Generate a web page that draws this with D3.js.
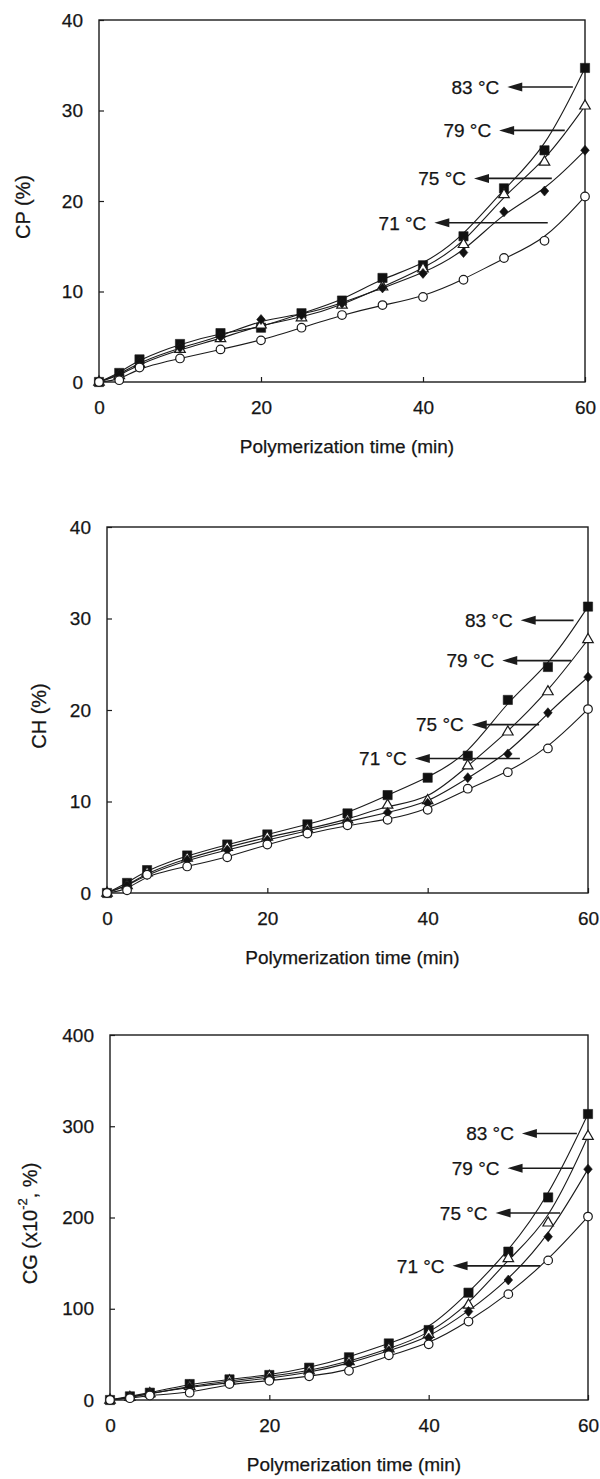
<!DOCTYPE html>
<html>
<head>
<meta charset="utf-8">
<script src="https://cdn.jsdelivr.net/npm/d3@7"></script>
<style>
  body { margin: 0; background: #fff; }
  svg { display: block; }
  text { font-family: "Liberation Sans", Arial, sans-serif; fill: #151515; stroke: #151515; stroke-width: 0.25px; }
</style>
</head>
<body>
<svg id="chart" width="600" height="1479"></svg>
<script>
// sampling times (min), shared by all series
var times = [0, 2.5, 5, 10, 15, 20, 25, 30, 35, 40, 45, 50, 55, 60];
var temps = ["83 °C", "79 °C", "75 °C", "71 °C"];

// CP (%)
var cp83 = [0, 1.0, 2.5, 4.2, 5.4, 6.0, 7.6, 9.0, 11.5, 12.9, 16.1, 21.4, 25.6, 34.7];
var cp79 = [0, 0.7, 2.0, 3.6, 4.8, 6.3, 7.1, 8.5, 10.5, 12.5, 15.2, 20.7, 24.3, 30.5];
var cp75 = [0, 0.8, 2.2, 3.8, 5.0, 6.9, 7.4, 8.7, 10.4, 12.0, 14.3, 18.8, 21.1, 25.6];
var cp71 = [0, 0.2, 1.6, 2.6, 3.6, 4.6, 6.0, 7.4, 8.5, 9.4, 11.3, 13.7, 15.6, 20.5];

// CH (%)
var ch83 = [0, 1.1, 2.5, 4.1, 5.3, 6.4, 7.5, 8.7, 10.7, 12.6, 15.0, 21.1, 24.7, 31.3];
var ch79 = [0, 0.8, 2.2, 3.8, 5.0, 6.1, 7.0, 8.0, 9.6, 10.1, 13.9, 17.6, 22.0, 27.7];
var ch75 = [0, 0.8, 2.0, 3.6, 4.7, 5.8, 6.8, 7.8, 8.8, 9.8, 12.6, 15.2, 19.7, 23.6];
var ch71 = [0, 0.3, 2.0, 2.9, 3.9, 5.3, 6.5, 7.4, 8.0, 9.1, 11.4, 13.2, 15.8, 20.1];

// CG (x10^-2, %)
var cg83 = [0, 4, 8, 17.5, 22.6, 27.4, 35.4, 46.8, 62, 76.7, 117.6, 162.6, 222, 313.4];
var cg79 = [0, 3, 7, 15, 21, 26, 32, 42, 56, 72, 104, 155, 194, 289];
var cg75 = [0, 3, 7, 14, 19, 24, 30, 40, 54, 68, 97, 131.5, 179, 253];
var cg71 = [0, 2, 5, 8, 17.5, 21, 26, 32, 49, 61, 86, 116, 153, 201];

// label arrows: y level, arrow tip x, arrow tail x (data units)
var cpArrowY = [32.6, 27.8, 22.5, 17.6];
var cpArrowTip = [50.4, 49.4, 46.3, 41.4];
var cpArrowTail = [58.5, 57.5, 55.9, 55.4];

var chArrowY = [29.8, 25.4, 18.4, 14.7];
var chArrowTip = [51.6, 49.3, 45.5, 38.4];
var chArrowTail = [58.2, 57.9, 53.9, 51.5];

var cgArrowY = [292, 254, 205, 147];
var cgArrowTip = [51.7, 49.9, 48.4, 43];
var cgArrowTail = [58.6, 58.1, 56.5, 54];

var xTicks = [0, 20, 40, 60];

var panels = [
    {label: "CP (%)", series: [cp83, cp79, cp75, cp71], yMax: 40, yTicks: [0, 10, 20, 30, 40],
     arrowY: cpArrowY, arrowTip: cpArrowTip, arrowTail: cpArrowTail,
     box: {left: 99, right: 585, top: 20, bottom: 382}, titleX: 23},
    {label: "CH (%)", series: [ch83, ch79, ch75, ch71], yMax: 40, yTicks: [0, 10, 20, 30, 40],
     arrowY: chArrowY, arrowTip: chArrowTip, arrowTail: chArrowTail,
     box: {left: 107, right: 588, top: 527, bottom: 893}, titleX: 39},
    {label: "CG", series: [cg83, cg79, cg75, cg71], yMax: 400, yTicks: [0, 100, 200, 300, 400],
     arrowY: cgArrowY, arrowTip: cgArrowTip, arrowTail: cgArrowTail,
     box: {left: 110, right: 588, top: 1035, bottom: 1400}, titleX: 30}
];

var svg = d3.select("#chart");
var ink = "#1b1b1b";
var fs = 19;

// marker shapes: square, open triangle, diamond, open circle
var markerPath = [
    d3.symbol().type(d3.symbolSquare).size(85)(),
    d3.symbol().type(d3.symbolTriangle).size(48)(),
    "M0,-5L4.3,0L0,5L-4.3,0Z",
    null
];
var markerFill = ["#111", "#fff", "#111", "#fff"];

panels.forEach(function(p) {
    var b = p.box;
    var x = d3.scaleLinear().domain([0, 60]).range([b.left, b.right]);
    var y = d3.scaleLinear().domain([0, p.yMax]).range([b.bottom, b.top]);
    var g = svg.append("g");

    // axes with inward ticks
    var ax = g.append("g").attr("transform", "translate(0," + b.bottom + ")")
        .call(d3.axisBottom(x).tickValues(xTicks).tickSizeInner(-5).tickSizeOuter(0).tickPadding(19));
    var ay = g.append("g").attr("transform", "translate(" + b.left + ",0)")
        .call(d3.axisLeft(y).tickValues(p.yTicks).tickSizeInner(-5).tickSizeOuter(0).tickPadding(16));
    [ax, ay].forEach(function(a) {
        a.select(".domain").remove();
        a.selectAll("line").attr("stroke", ink).attr("stroke-width", 1.2);
        a.selectAll("text").attr("font-size", fs).attr("fill", "#151515")
            .attr("font-family", "'Liberation Sans', Arial, sans-serif");
    });

    // frame
    g.append("rect")
        .attr("x", b.left).attr("y", b.top)
        .attr("width", b.right - b.left).attr("height", b.bottom - b.top)
        .attr("fill", "none").attr("stroke", ink).attr("stroke-width", 1.4);

    // smooth curves through the series
    var line = d3.line()
        .x(function(d, i) { return x(times[i]); })
        .y(function(d) { return y(d); })
        .curve(d3.curveBasis);
    p.series.forEach(function(s) {
        g.append("path").attr("d", line(s))
            .attr("fill", "none").attr("stroke", ink).attr("stroke-width", 1.1);
    });

    // markers
    p.series.forEach(function(s, k) {
        var sel = g.append("g").selectAll("path, circle").data(s).enter();
        if (k === 3) {
            sel.append("circle")
                .attr("cx", function(d, i) { return x(times[i]); })
                .attr("cy", function(d) { return y(d); })
                .attr("r", 4.3)
                .attr("fill", "#fff").attr("stroke", ink).attr("stroke-width", 1.2);
        } else {
            sel.append("path")
                .attr("d", markerPath[k])
                .attr("transform", function(d, i) { return "translate(" + x(times[i]) + "," + y(d) + ")"; })
                .attr("fill", markerFill[k]).attr("stroke", ink).attr("stroke-width", k === 1 ? 1.2 : 0.6);
        }
    });

    // temperature labels with arrows
    temps.forEach(function(t, k) {
        var yy = y(p.arrowY[k]);
        var tip = x(p.arrowTip[k]);
        var tail = x(p.arrowTail[k]);
        g.append("line")
            .attr("x1", tip + 8).attr("x2", tail)
            .attr("y1", yy).attr("y2", yy)
            .attr("stroke", ink).attr("stroke-width", 1.6);
        g.append("path")
            .attr("d", "M" + tip + "," + yy + "L" + (tip + 15) + "," + (yy - 4.5) + "L" + (tip + 15) + "," + (yy + 4.5) + "Z")
            .attr("fill", ink);
        g.append("text")
            .attr("x", tip - 8).attr("y", yy)
            .attr("dy", "0.36em")
            .attr("text-anchor", "end")
            .attr("font-size", fs)
            .text(t);
    });

    // axis titles
    g.append("text")
        .attr("x", (b.left + b.right) / 2 + 5)
        .attr("y", b.bottom + 71)
        .attr("text-anchor", "middle")
        .attr("font-size", fs)
        .text("Polymerization time (min)");

    var yt = g.append("text")
        .attr("transform", "translate(" + p.titleX + "," + ((b.top + b.bottom) / 2 + 6) + ") rotate(-90)")
        .attr("text-anchor", "middle")
        .attr("dy", "0.36em")
        .attr("font-size", 20);
    if (p.label === "CG") {
        yt.append("tspan").text("CG (x10");
        yt.append("tspan").attr("font-size", 13).attr("dy", "-0.75em").text("-2");
        yt.append("tspan").attr("dy", "0.48em").text(", %)");
    } else {
        yt.text(p.label);
    }
});
</script>
</body>
</html>
